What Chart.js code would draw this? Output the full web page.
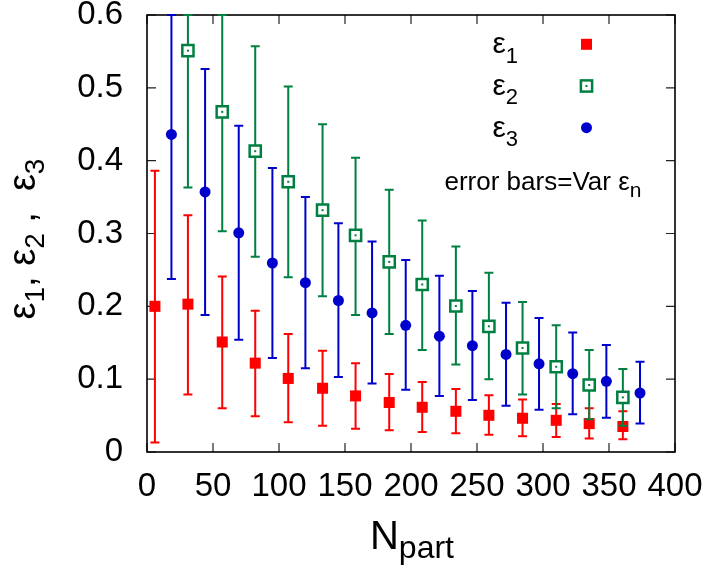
<!DOCTYPE html>
<html>
<head>
<meta charset="utf-8">
<script src="https://cdn.jsdelivr.net/npm/chart.js@4.4.1/dist/chart.umd.min.js"></script>
<style>
  html, body { margin: 0; padding: 0; background: #fff; }
</style>
</head>
<body>
<canvas id="chart" width="712" height="569"></canvas>
<script>
// N_part positions and eps_n values
const nEps1 = [6, 31, 57, 82, 107, 133, 158, 183.5, 208.5, 234, 259, 284.5, 310, 335, 360.5];
const eps1 = [0.200, 0.203, 0.151, 0.122, 0.101, 0.0875, 0.077, 0.068, 0.0614, 0.0559, 0.0504, 0.0463, 0.0435, 0.039, 0.035];
const eps1Lo = [0.013, 0.079, 0.060, 0.049, 0.041, 0.036, 0.032, 0.030, 0.0275, 0.0257, 0.0238, 0.0215, 0.0206, 0.0185, 0.0174];
const eps1Hi = [0.386, 0.325, 0.241, 0.194, 0.162, 0.139, 0.122, 0.107, 0.096, 0.0865, 0.078, 0.072, 0.066, 0.060, 0.056];

const nEps2 = [31, 57, 82, 107, 133, 158, 183.5, 208.5, 234, 259, 284.5, 310, 335, 360.5];
const eps2 = [0.551, 0.467, 0.413, 0.371, 0.332, 0.2975, 0.261, 0.230, 0.2005, 0.1726, 0.1428, 0.117, 0.092, 0.075];
const eps2Lo = [0.363, 0.303, 0.268, 0.240, 0.214, 0.188, 0.162, 0.140, 0.120, 0.100, 0.079, 0.060, 0.045, 0.036];
const eps2Hi = [0.74, 0.63, 0.557, 0.502, 0.450, 0.404, 0.360, 0.318, 0.282, 0.246, 0.206, 0.174, 0.140, 0.114];

const nEps3 = [18.5, 44, 69.5, 95, 120, 145, 170.5, 196, 221.5, 246.5, 272, 297, 322.5, 348, 373.5];
const eps3 = [0.436, 0.357, 0.301, 0.2595, 0.2325, 0.208, 0.191, 0.174, 0.159, 0.146, 0.134, 0.121, 0.1075, 0.097, 0.081];
const eps3Lo = [0.2375, 0.188, 0.154, 0.129, 0.115, 0.103, 0.094, 0.0855, 0.077, 0.0714, 0.0636, 0.058, 0.052, 0.047, 0.039];
const eps3Hi = [0.634, 0.526, 0.448, 0.390, 0.350, 0.314, 0.289, 0.2636, 0.242, 0.221, 0.205, 0.184, 0.164, 0.147, 0.124];

const xTicks = [0, 50, 100, 150, 200, 250, 300, 350, 400];
const yTicks = [0, 0.1, 0.2, 0.3, 0.4, 0.5, 0.6];

const FONT = '"Liberation Sans", Arial, sans-serif';
const RED = '#ff0000', GREEN = '#008040', BLUE = '#0000cd';

const pts = (xs, ys) => xs.map((x, i) => ({ x: x, y: ys[i] }));

// draw text runs (base + subscript) starting at x, baseline y
function textRuns(ctx, runs, x, y, measureOnly) {
    let w = 0;
    runs.forEach(r => {
        ctx.font = r.size + 'px ' + FONT;
        if (!measureOnly) ctx.fillText(r.t, x + w, y + (r.dy || 0));
        w += ctx.measureText(r.t).width;
    });
    return w;
}

function marker(ctx, kind, x, y) {
    ctx.save();
    if (kind === 'fillsq') {
        ctx.fillStyle = RED;
        ctx.fillRect(x - 5.5, y - 5.5, 11, 11);
    } else if (kind === 'opensq') {
        ctx.fillStyle = '#fff';
        ctx.strokeStyle = GREEN;
        ctx.lineWidth = 2.5;
        ctx.fillRect(x - 5.6, y - 5.6, 11.2, 11.2);
        ctx.strokeRect(x - 5.6, y - 5.6, 11.2, 11.2);
        ctx.fillStyle = GREEN;
        ctx.fillRect(x - 1, y - 1, 2, 2);
    } else {
        ctx.fillStyle = BLUE;
        ctx.beginPath();
        ctx.arc(x, y, 5.5, 0, Math.PI * 2);
        ctx.fill();
    }
    ctx.restore();
}

const errorBars = {
    id: 'errorBars',
    beforeDatasetDraw(chart, args) {
        const ds = chart.data.datasets[args.index];
        const ctx = chart.ctx, y = chart.scales.y;
        ctx.save();
        ctx.strokeStyle = ds.borderColor;
        ctx.lineWidth = 2;
        args.meta.data.forEach((pt, i) => {
            const yl = y.getPixelForValue(Math.max(ds.errLo[i], y.min));
            const yh = y.getPixelForValue(Math.min(ds.errHi[i], y.max));
            ctx.beginPath();
            ctx.moveTo(pt.x, yl); ctx.lineTo(pt.x, yh);
            ctx.moveTo(pt.x - 4.5, yl); ctx.lineTo(pt.x + 4.5, yl);
            ctx.moveTo(pt.x - 4.5, yh); ctx.lineTo(pt.x + 4.5, yh);
            ctx.stroke();
        });
        ctx.restore();
    },
    afterDatasetDraw(chart, args) {
        const ds = chart.data.datasets[args.index];
        if (!ds.centerDot) return;
        const ctx = chart.ctx;
        ctx.save();
        ctx.fillStyle = ds.borderColor;
        args.meta.data.forEach(pt => ctx.fillRect(pt.x - 1, pt.y - 1, 2, 2));
        ctx.restore();
    }
};

// gnuplot style frame with inward ticks on all four sides
const frame = {
    id: 'frame',
    beforeDatasetsDraw(chart) {
        const { ctx, chartArea: a, scales } = chart;
        ctx.save();
        ctx.strokeStyle = '#222';
        ctx.lineWidth = 1.2;
        ctx.beginPath();
        xTicks.forEach(v => {
            const px = scales.x.getPixelForValue(v);
            ctx.moveTo(px, a.bottom); ctx.lineTo(px, a.bottom - 9);
            ctx.moveTo(px, a.top); ctx.lineTo(px, a.top + 9);
        });
        yTicks.forEach(v => {
            const py = scales.y.getPixelForValue(v);
            ctx.moveTo(a.left, py); ctx.lineTo(a.left + 9, py);
            ctx.moveTo(a.right, py); ctx.lineTo(a.right - 9, py);
        });
        ctx.stroke();
        ctx.strokeStyle = '#000';
        ctx.lineWidth = 1.6;
        ctx.strokeRect(a.left, a.top, a.right - a.left, a.bottom - a.top);
        ctx.restore();
    }
};

const labels = {
    id: 'labels',
    afterDraw(chart) {
        const ctx = chart.ctx;
        ctx.save();
        ctx.fillStyle = '#000';
        ctx.textBaseline = 'alphabetic';
        ctx.textAlign = 'left';

        // legend
        const rows = [['1', 'fillsq'], ['2', 'opensq'], ['3', 'dot']];
        rows.forEach((r, i) => {
            const base = 53.3 + i * 41.7;
            const runs = [{ t: 'ε', size: 30 }, { t: r[0], size: 22, dy: 9.4 }];
            const w = textRuns(ctx, runs, 0, 0, true);
            textRuns(ctx, runs, 518 - w, base);
            marker(ctx, r[1], 586.5, base - 9);
        });
        textRuns(ctx, [{ t: 'error bars=Var ε', size: 26 }, { t: 'n', size: 21, dy: 7 }], 444.5, 190);

        // x title
        const xr = [{ t: 'N', size: 40 }, { t: 'part', size: 32, dy: 9 }];
        const xw = textRuns(ctx, xr, 0, 0, true);
        textRuns(ctx, xr, 412 - xw / 2, 549);

        // y title
        const yr = [{ t: 'ε', size: 38 }, { t: '1', size: 28, dy: 9 }, { t: ', ', size: 38 },
                    { t: 'ε', size: 38 }, { t: '2', size: 28, dy: 9 }, { t: ' ,  ', size: 38 },
                    { t: 'ε', size: 38 }, { t: '3', size: 28, dy: 9 }];
        const yw = textRuns(ctx, yr, 0, 0, true);
        ctx.translate(35, 239);
        ctx.rotate(-Math.PI / 2);
        textRuns(ctx, yr, -yw / 2, 0);
        ctx.restore();
    }
};

new Chart(document.getElementById('chart'), {
    type: 'scatter',
    data: {
        datasets: [
            {
                label: 'ε1', data: pts(nEps1, eps1), errLo: eps1Lo, errHi: eps1Hi, order: 3,
                pointStyle: 'rect', pointRadius: 7.8, backgroundColor: RED, borderColor: RED, borderWidth: 0
            },
            {
                label: 'ε2', data: pts(nEps2, eps2), errLo: eps2Lo, errHi: eps2Hi, order: 2, centerDot: true,
                pointStyle: 'rect', pointRadius: 7.9, backgroundColor: '#fff', borderColor: GREEN, borderWidth: 2.5
            },
            {
                label: 'ε3', data: pts(nEps3, eps3), errLo: eps3Lo, errHi: eps3Hi, order: 1,
                pointStyle: 'circle', pointRadius: 5.5, backgroundColor: BLUE, borderColor: BLUE, borderWidth: 0
            }
        ]
    },
    options: {
        responsive: false,
        animation: false,
        devicePixelRatio: 1,
        layout: { padding: { top: 15, right: 37, left: 0, bottom: 0 } },
        plugins: { legend: { display: false }, tooltip: { enabled: false } },
        scales: {
            x: {
                type: 'linear', min: 0, max: 400,
                ticks: { stepSize: 50, color: '#000', font: { family: FONT, size: 33 }, padding: 15, maxRotation: 0, autoSkip: false },
                grid: { display: false, drawTicks: false, tickLength: 0 },
                border: { display: false },
                afterFit(s) { s.height = 117; s.paddingLeft = 0; s.paddingRight = 0; }
            },
            y: {
                min: 0, max: 0.6,
                ticks: {
                    stepSize: 0.1, color: '#000', font: { family: FONT, size: 33 }, padding: 24,
                    callback: v => (v === 0 ? '0' : Number(v).toFixed(1))
                },
                grid: { display: false, drawTicks: false, tickLength: 0 },
                border: { display: false },
                afterFit(s) { s.width = 147; s.paddingTop = 0; s.paddingBottom = 0; }
            }
        }
    },
    plugins: [errorBars, frame, labels]
});
</script>
</body>
</html>
